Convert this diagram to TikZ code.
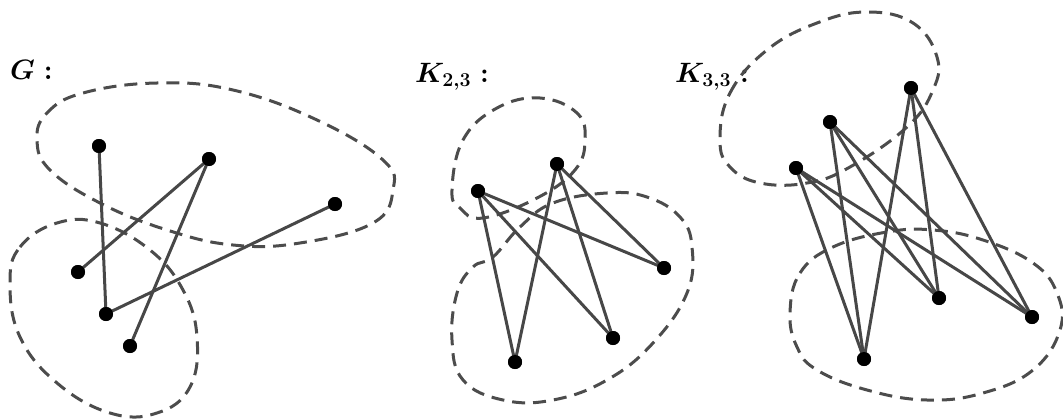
\RequirePackage{fix-cm}
\documentclass[tikz,border=0pt]{standalone}
\usepackage{amsmath,bm}
\begin{document}
\begin{tikzpicture}[x=1pt,y=-1pt,
  vtx/.style={circle,fill=black,inner sep=0pt,minimum size=14pt},
  edge/.style={draw=black!72,line width=3pt},
  blob/.style={draw=black!70,line width=3pt,dash pattern=on 13pt off 8pt},
  lbl/.style={anchor=base west,inner sep=0pt,font=\fontsize{28}{32}\selectfont\boldmath}]
\useasboundingbox (0,0) rectangle (1063,420);
% labels
\node[lbl] (lG) at (10,80) {$G:$};
\node[lbl] (lK23) at (415,82) {$K_{2,3}:$};
\node[lbl] (lK33) at (675,82) {$K_{3,3}:$};
% blobs G
\draw[blob] plot[smooth cycle,tension=0.7] coordinates{(37,140) (47,113) (83,93) (157,83) (233,90) (317,120) (383,160) (393,190) (373,223) (300,243) (233,245) (167,230) (100,203) (50,170)};
\draw[blob] plot[smooth cycle,tension=0.7] coordinates{(10,283) (20,247) (57,223) (100,223) (150,250) (183,290) (197,337) (190,387) (157,413) (110,413) (57,383) (20,337)};
% blobs K23
\draw[blob] plot[smooth cycle,tension=0.7] coordinates{(452,190) (463,140) (497,108) (540,98) (577,113) (585,140) (575,170) (537,198) (483,218) (460,208)};
\draw[blob] plot[smooth cycle,tension=0.7] coordinates{(493,257) (520,227) (553,203) (607,193) (647,197) (680,217) (692,247) (687,293) (653,343) (607,380) (553,400) (503,400) (463,380) (452,340) (457,293) (473,267)};
% blobs K33
\draw[blob] plot[smooth cycle,tension=0.7] coordinates{(720,140) (730,93) (767,50) (817,23) (867,12) (913,23) (937,57) (933,90) (907,127) (850,167) (807,183) (760,183) (730,167)};
\draw[blob] plot[smooth cycle,tension=0.7] coordinates{(790,313) (800,273) (833,247) (887,232) (933,230) (983,240) (1033,263) (1057,293) (1060,330) (1033,370) (983,393) (927,400) (867,390) (817,370) (797,347)};
% G vertices
\node[vtx] (g1) at (99,146) {};
\node[vtx] (g2) at (209,159) {};
\node[vtx] (g3) at (335,204) {};
\node[vtx] (g4) at (78,272) {};
\node[vtx] (g5) at (106,314) {};
\node[vtx] (g6) at (130,346) {};
\draw[edge] (g1.center)--(g5.center);
\draw[edge] (g2.center)--(g4.center);
\draw[edge] (g2.center)--(g6.center);
\draw[edge] (g3.center)--(g5.center);
% K23
\node[vtx] (a1) at (478,191) {};
\node[vtx] (a2) at (557,164) {};
\node[vtx] (b1) at (664,268) {};
\node[vtx] (b2) at (613,338) {};
\node[vtx] (b3) at (515,362) {};
\foreach \a in {a1,a2}{\foreach \b in {b1,b2,b3}{\draw[edge] (\a.center)--(\b.center);}}
% K33
\node[vtx] (c1) at (911,88) {};
\node[vtx] (c2) at (830,122) {};
\node[vtx] (c3) at (796,168) {};
\node[vtx] (d1) at (939,298) {};
\node[vtx] (d2) at (1032,317) {};
\node[vtx] (d3) at (864,359) {};
\foreach \a in {c1,c2,c3}{\foreach \b in {d1,d2,d3}{\draw[edge] (\a.center)--(\b.center);}}
\foreach \n in {g1,g2,g3,g4,g5,g6,a1,a2,b1,b2,b3,c1,c2,c3,d1,d2,d3}{\fill (\n) circle (7pt);}
\end{tikzpicture}
\end{document}
